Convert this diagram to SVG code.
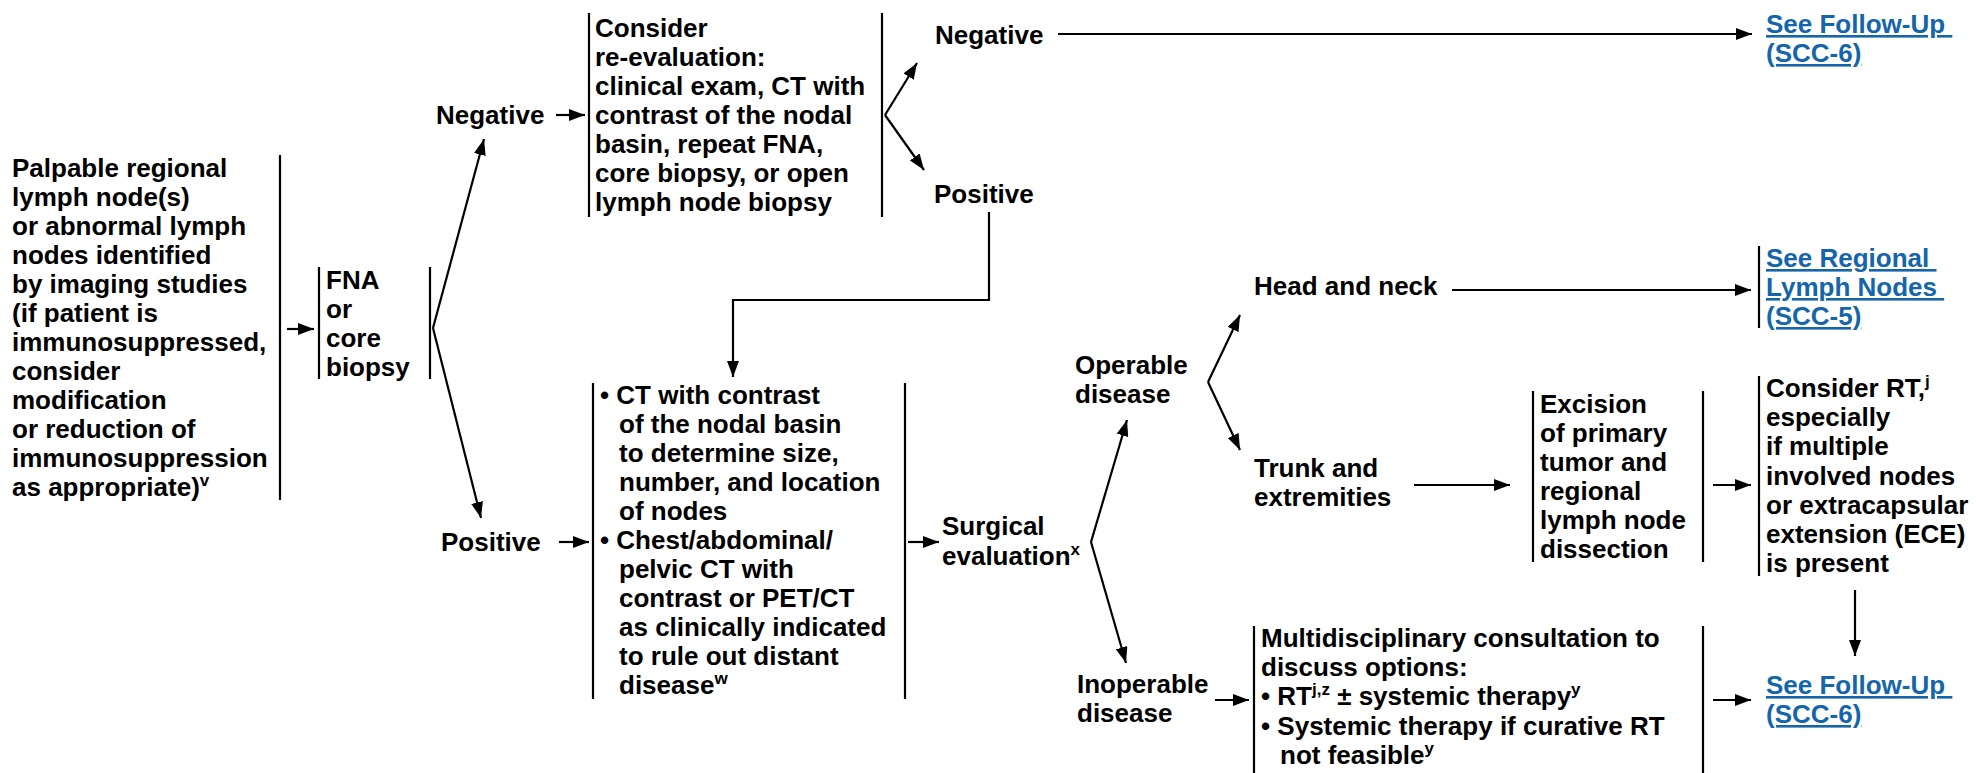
<svg xmlns="http://www.w3.org/2000/svg" width="1976" height="773" viewBox="0 0 1976 773">
<defs>
<style>
text{font-family:"Liberation Sans",Arial,Helvetica,sans-serif;font-weight:bold;font-size:26px;fill:#000}
.sup{font-size:17px}
.lk{fill:#1565ab;text-decoration:underline}
.br{stroke:#000;stroke-width:2.2;fill:none}
.c{stroke:#000;stroke-width:2.2;fill:none;marker-end:url(#ah)}
.cn{stroke:#000;stroke-width:2.2;fill:none}
</style>
<marker id="ah" markerUnits="userSpaceOnUse" viewBox="0 0 16 12" markerWidth="16" markerHeight="12" refX="16" refY="6" orient="auto"><path d="M0,0 L16,6 L0,12 z" fill="#000"/></marker>
</defs>
<rect width="1976" height="773" fill="#fff"/>

<g id="n-palpable">
<text x="12" y="177">Palpable regional</text>
<text x="12" y="206">lymph node(s)</text>
<text x="12" y="235">or abnormal lymph</text>
<text x="12" y="264">nodes identified</text>
<text x="12" y="293">by imaging studies</text>
<text x="12" y="322">(if patient is</text>
<text x="12" y="351">immunosuppressed,</text>
<text x="12" y="380">consider</text>
<text x="12" y="409">modification</text>
<text x="12" y="438">or reduction of</text>
<text x="12" y="467">immunosuppression</text>
<text x="12" y="496">as appropriate)<tspan class="sup" dy="-10">v</tspan></text>
<line class="br" x1="280" y1="155" x2="280" y2="500"/>
</g>

<g id="n-fna">
<line class="br" x1="319" y1="267" x2="319" y2="379"/>
<text x="326" y="289">FNA</text>
<text x="326" y="318">or</text>
<text x="326" y="347">core</text>
<text x="326" y="376">biopsy</text>
<line class="br" x1="430" y1="267" x2="430" y2="379"/>
</g>

<g id="n-neg1"><text x="436" y="124">Negative</text></g>
<g id="n-pos1"><text x="441" y="551">Positive</text></g>

<g id="n-reeval">
<line class="br" x1="589" y1="13" x2="589" y2="217"/>
<text x="595" y="37">Consider</text>
<text x="595" y="66">re-evaluation:</text>
<text x="595" y="95">clinical exam, CT with</text>
<text x="595" y="124">contrast of the nodal</text>
<text x="595" y="153">basin, repeat FNA,</text>
<text x="595" y="182">core biopsy, or open</text>
<text x="595" y="211">lymph node biopsy</text>
<line class="br" x1="882" y1="13" x2="882" y2="217"/>
</g>

<g id="n-neg2"><text x="935" y="44">Negative</text></g>
<g id="n-pos2"><text x="934" y="203">Positive</text></g>

<g id="n-fu1">
<text class="lk" x="1766" y="33">See Follow-Up&#160;</text>
<text class="lk" x="1766" y="62">(SCC-6)</text>
</g>

<g id="n-workup">
<line class="br" x1="593" y1="383" x2="593" y2="699"/>
<text x="600" y="404">• CT with contrast</text>
<text x="619" y="433">of the nodal basin</text>
<text x="619" y="462">to determine size,</text>
<text x="619" y="491">number, and location</text>
<text x="619" y="520">of nodes</text>
<text x="600" y="549">• Chest/abdominal/</text>
<text x="619" y="578">pelvic CT with</text>
<text x="619" y="607">contrast or PET/CT</text>
<text x="619" y="636">as clinically indicated</text>
<text x="619" y="665">to rule out distant</text>
<text x="619" y="694">disease<tspan class="sup" dy="-10">w</tspan></text>
<line class="br" x1="905" y1="383" x2="905" y2="699"/>
</g>

<g id="n-surgical">
<text x="942" y="535">Surgical</text>
<text x="942" y="565">evaluation<tspan class="sup" dy="-10">x</tspan></text>
</g>

<g id="n-operable">
<text x="1075" y="374">Operable</text>
<text x="1075" y="403">disease</text>
</g>

<g id="n-inoperable">
<text x="1077" y="693">Inoperable</text>
<text x="1077" y="722">disease</text>
</g>

<g id="n-headneck"><text x="1254" y="295">Head and neck</text></g>

<g id="n-trunk">
<text x="1254" y="477">Trunk and</text>
<text x="1254" y="506">extremities</text>
</g>

<g id="n-regional">
<line class="br" x1="1759" y1="246" x2="1759" y2="328"/>
<text class="lk" x="1766" y="267">See Regional&#160;</text>
<text class="lk" x="1766" y="296">Lymph Nodes&#160;</text>
<text class="lk" x="1766" y="325">(SCC-5)</text>
</g>

<g id="n-excision">
<line class="br" x1="1533" y1="391" x2="1533" y2="562"/>
<text x="1540" y="413">Excision</text>
<text x="1540" y="442">of primary</text>
<text x="1540" y="471">tumor and</text>
<text x="1540" y="500">regional</text>
<text x="1540" y="529">lymph node</text>
<text x="1540" y="558">dissection</text>
<line class="br" x1="1703" y1="391" x2="1703" y2="562"/>
</g>

<g id="n-considerrt">
<line class="br" x1="1759" y1="376" x2="1759" y2="576"/>
<text x="1766" y="397">Consider RT,<tspan class="sup" dy="-10">j</tspan></text>
<text x="1766" y="426">especially</text>
<text x="1766" y="455">if multiple</text>
<text x="1766" y="485">involved nodes</text>
<text x="1766" y="514">or extracapsular</text>
<text x="1766" y="543">extension (ECE)</text>
<text x="1766" y="572">is present</text>
</g>

<g id="n-multi">
<line class="br" x1="1254" y1="626" x2="1254" y2="773"/>
<text x="1261" y="647">Multidisciplinary consultation to</text>
<text x="1261" y="676">discuss options:</text>
<text x="1261" y="705">• RT<tspan class="sup" dy="-10">j,z</tspan><tspan dy="10"> ± systemic therapy</tspan><tspan class="sup" dy="-10">y</tspan></text>
<text x="1261" y="735">• Systemic therapy if curative RT</text>
<text x="1280" y="764">not feasible<tspan class="sup" dy="-10">y</tspan></text>
<line class="br" x1="1703" y1="626" x2="1703" y2="773"/>
</g>

<g id="n-fu2">
<text class="lk" x="1766" y="694">See Follow-Up&#160;</text>
<text class="lk" x="1766" y="723">(SCC-6)</text>
</g>

<g id="connectors">
<line class="c" x1="287" y1="329" x2="314" y2="329"/>
<line class="c" x1="433" y1="328" x2="484" y2="139"/>
<line class="c" x1="433" y1="328" x2="481" y2="518"/>
<line class="c" x1="556" y1="115" x2="585" y2="115"/>
<line class="c" x1="885" y1="115" x2="917" y2="63"/>
<line class="c" x1="885" y1="115" x2="924" y2="170"/>
<line class="c" x1="1058" y1="34" x2="1752" y2="34"/>
<path class="c" d="M989,212 V300 H733 V377"/>
<line class="c" x1="559" y1="542" x2="589" y2="542"/>
<line class="c" x1="908" y1="542" x2="939" y2="542"/>
<line class="c" x1="1091" y1="542" x2="1127" y2="420"/>
<line class="c" x1="1091" y1="542" x2="1126" y2="663"/>
<line class="c" x1="1208" y1="382" x2="1240" y2="315"/>
<line class="c" x1="1208" y1="382" x2="1240" y2="450"/>
<line class="c" x1="1452" y1="290" x2="1751" y2="290"/>
<line class="c" x1="1414" y1="485" x2="1510" y2="485"/>
<line class="c" x1="1713" y1="485" x2="1751" y2="485"/>
<line class="c" x1="1855" y1="590" x2="1855" y2="656"/>
<line class="c" x1="1215" y1="700" x2="1249" y2="700"/>
<line class="c" x1="1713" y1="700" x2="1751" y2="700"/>
</g>
</svg>
